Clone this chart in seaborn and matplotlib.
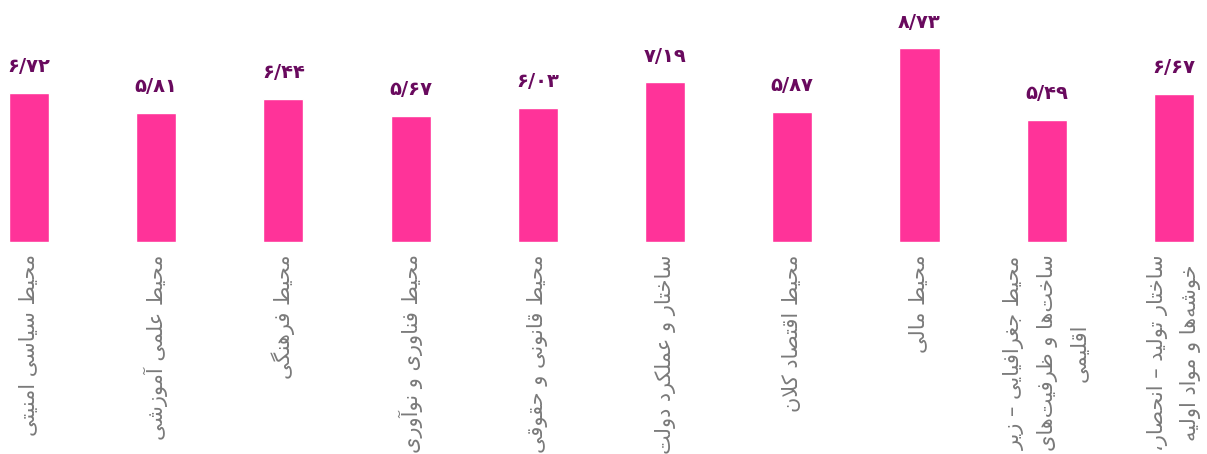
import matplotlib
matplotlib.use("Agg")
import matplotlib.pyplot as plt
import seaborn as sns
import pandas as pd

# ---- data ----
categories = [
    "محیط سیاسی امنیتی",
    "محیط علمی آموزشی",
    "محیط فرهنگی",
    "محیط فناوری و نوآوری",
    "محیط قانونی و حقوقی",
    "ساختار و عملکرد دولت",
    "محیط اقتصاد کلان",
    "محیط مالی",
    "محیط جغرافیایی – زیر\nساخت‌ها و ظرفیت‌های\nاقلیمی",
    "ساختار تولید – انحصار،\nخوشه‌ها و مواد اولیه",
]
values = [6.72, 5.81, 6.44, 5.67, 6.03, 7.19, 5.87, 8.73, 5.49, 6.67]

BAR_COLOR = "#FF3399"
VALUE_COLOR = "#690A5E"
LABEL_COLOR = "#7A7A7A"

# ---- minimal Arabic/Persian shaping (matplotlib has no complex text layout) ----
# (isolated, final, initial, medial); initial/medial None => joins only to the right
FORMS = {
    "\u0627": ("\uFE8D", "\uFE8E", None, None),
    "\u0622": ("\uFE81", "\uFE82", None, None),
    "\u0628": ("\uFE8F", "\uFE90", "\uFE91", "\uFE92"),
    "\u067E": ("\uFB56", "\uFB57", "\uFB58", "\uFB59"),
    "\u062A": ("\uFE95", "\uFE96", "\uFE97", "\uFE98"),
    "\u062B": ("\uFE99", "\uFE9A", "\uFE9B", "\uFE9C"),
    "\u062C": ("\uFE9D", "\uFE9E", "\uFE9F", "\uFEA0"),
    "\u0686": ("\uFB7A", "\uFB7B", "\uFB7C", "\uFB7D"),
    "\u062D": ("\uFEA1", "\uFEA2", "\uFEA3", "\uFEA4"),
    "\u062E": ("\uFEA5", "\uFEA6", "\uFEA7", "\uFEA8"),
    "\u062F": ("\uFEA9", "\uFEAA", None, None),
    "\u0630": ("\uFEAB", "\uFEAC", None, None),
    "\u0631": ("\uFEAD", "\uFEAE", None, None),
    "\u0632": ("\uFEAF", "\uFEB0", None, None),
    "\u0698": ("\uFB8A", "\uFB8B", None, None),
    "\u0633": ("\uFEB1", "\uFEB2", "\uFEB3", "\uFEB4"),
    "\u0634": ("\uFEB5", "\uFEB6", "\uFEB7", "\uFEB8"),
    "\u0635": ("\uFEB9", "\uFEBA", "\uFEBB", "\uFEBC"),
    "\u0636": ("\uFEBD", "\uFEBE", "\uFEBF", "\uFEC0"),
    "\u0637": ("\uFEC1", "\uFEC2", "\uFEC3", "\uFEC4"),
    "\u0638": ("\uFEC5", "\uFEC6", "\uFEC7", "\uFEC8"),
    "\u0639": ("\uFEC9", "\uFECA", "\uFECB", "\uFECC"),
    "\u063A": ("\uFECD", "\uFECE", "\uFECF", "\uFED0"),
    "\u0641": ("\uFED1", "\uFED2", "\uFED3", "\uFED4"),
    "\u0642": ("\uFED5", "\uFED6", "\uFED7", "\uFED8"),
    "\u06A9": ("\uFB8E", "\uFB8F", "\uFB90", "\uFB91"),
    "\u06AF": ("\uFB92", "\uFB93", "\uFB94", "\uFB95"),
    "\u0644": ("\uFEDD", "\uFEDE", "\uFEDF", "\uFEE0"),
    "\u0645": ("\uFEE1", "\uFEE2", "\uFEE3", "\uFEE4"),
    "\u0646": ("\uFEE5", "\uFEE6", "\uFEE7", "\uFEE8"),
    "\u0647": ("\uFEE9", "\uFEEA", "\uFEEB", "\uFEEC"),
    "\u0648": ("\uFEED", "\uFEEE", None, None),
    "\u06CC": ("\uFBFC", "\uFBFD", "\uFBFE", "\uFBFF"),
}
LAM_ALEF = {"\u0627": ("\uFEFB", "\uFEFC"), "\u0622": ("\uFEF5", "\uFEF6")}


def shape_line(s):
    chars = list(s)
    out = []
    i = 0
    n = len(chars)
    while i < n:
        c = chars[i]
        if c == "\u200c":
            i += 1
            continue
        if c not in FORMS:
            out.append(c)
            i += 1
            continue
        prev = chars[i - 1] if i > 0 else None
        joins_prev = prev in FORMS and FORMS[prev][2] is not None
        if c == "\u0644" and i + 1 < n and chars[i + 1] in LAM_ALEF:
            iso, fin = LAM_ALEF[chars[i + 1]]
            out.append(fin if joins_prev else iso)
            i += 2
            continue
        nxt = chars[i + 1] if i + 1 < n else None
        iso, fin, ini, med = FORMS[c]
        joins_next = ini is not None and nxt in FORMS
        if joins_prev and joins_next:
            out.append(med)
        elif joins_prev:
            out.append(fin)
        elif joins_next:
            out.append(ini)
        else:
            out.append(iso)
        i += 1
    return "".join(out)[::-1]


def rtl(s):
    return "\n".join(shape_line(line) for line in s.split("\n"))


def fa_num(v):
    digits = "۰۱۲۳۴۵۶۷۸۹"
    s = f"{v:.2f}".replace(".", "/")
    return "".join(digits[int(ch)] if ch.isdigit() else ch for ch in s)


# ---- plot ----
sns.set_theme(style="white")
plt.rcParams["font.family"] = ["DejaVu Sans"]

df = pd.DataFrame({"cat": categories, "val": values})

fig = plt.figure(figsize=(12.07, 4.54), dpi=100)
ax = fig.add_axes([0, 0.467, 1, 0.533])

sns.barplot(data=df, x="cat", y="val", color=BAR_COLOR, saturation=1,
            width=0.315, ax=ax)

ax.set_ylim(0, 10.9)
ax.set_xlim(-0.228, 9.26)
ax.set_xlabel("")
ax.set_ylabel("")
ax.set_yticks([])
ax.set_xticks(range(len(categories)))
ax.set_xticklabels([rtl(c) for c in categories], rotation=90, ha="center",
                   va="top", multialignment="center", color=LABEL_COLOR,
                   fontsize=15, linespacing=1.75)
ax.tick_params(axis="x", length=0, pad=9)
for sp in ax.spines.values():
    sp.set_visible(False)

for i, v in enumerate(values):
    ax.annotate(fa_num(v), xy=(i, v), xytext=(0, 12), textcoords="offset points",
                ha="center", va="bottom", fontsize=14, fontweight="bold",
                color=VALUE_COLOR)

fig.savefig("out.png", dpi=100)
